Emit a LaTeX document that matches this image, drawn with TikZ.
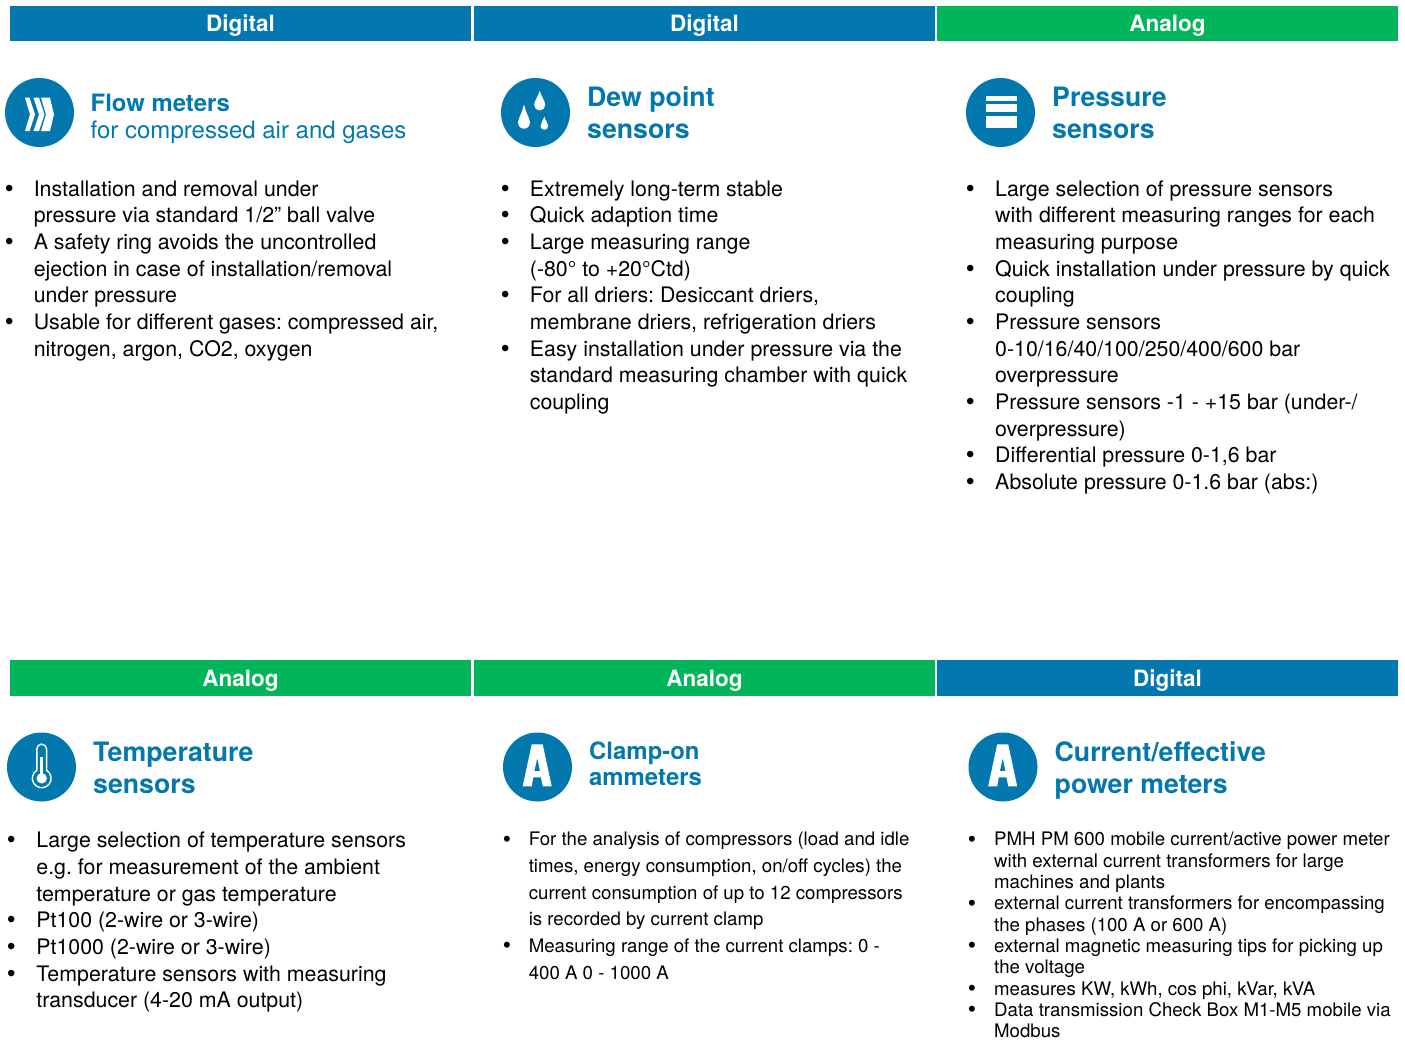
\documentclass[tikz,border=0pt]{standalone}
\usepackage{fontspec}
\setmainfont{TeX Gyre Heros}
\newfontfamily\bulfont{Liberation Sans}
\frenchspacing
\definecolor{bluec}{HTML}{0378AE}
\definecolor{greenc}{HTML}{00B55A}
\newcounter{ln}
\tikzset{
  bar/.style={minimum height=35.5pt,minimum width=461pt,inner sep=0pt,text=white,text height=18pt,text depth=2pt,font=\fontsize{22.5}{24}\selectfont\bfseries},
  digital/.style={bar,fill=bluec},
  analog/.style={bar,fill=greenc},
  disc/.style={circle,fill=bluec,minimum size=69pt,inner sep=0pt},
  line/.style={anchor=base west,inner sep=0pt,text=black},
  bodyA/.style={line,font=\fontsize{21.35}{24}\selectfont},
  bodyB/.style={line,font=\fontsize{18.65}{22}\selectfont},
  bulA/.style={line,font=\fontsize{24}{24}\selectfont\bulfont},
  bulB/.style={line,font=\fontsize{22}{24}\selectfont\bulfont},
  ttlbig/.style={line,text=bluec,font=\fontsize{26.7}{30}\selectfont\bfseries},
  ttlmid/.style={line,text=bluec,font=\fontsize{23.9}{30}\selectfont\bfseries},
  ttlreg/.style={line,text=bluec,font=\fontsize{24}{30}\selectfont},
}
\newcommand{\tl}[4]{\stepcounter{ln}\node[#1] (t\theln) at (#2,#3) {#4};}
\newcommand{\drop}[4]{\fill[white] (#1,#2) .. controls (#1+0.4*#4,#3-1.3*#4) and (#1+#4,#3-0.7*#4) .. (#1+#4,#3) arc[start angle=0,end angle=180,radius=#4] .. controls (#1-#4,#3-0.7*#4) and (#1-0.4*#4,#3-1.3*#4) .. (#1,#2) -- cycle;}
\begin{document}
\begin{tikzpicture}[x=1pt,y=-1pt]
\useasboundingbox (0,0) rectangle (1405,1039);
% header bars
\node[digital] (h1) at (240.5,23.7) {Digital};
\node[digital] (h2) at (704.5,23.7) {Digital};
\node[analog]  (h3) at (1167.5,23.7) {Analog};
\node[analog]  (h4) at (240.5,678) {Analog};
\node[analog]  (h5) at (704.5,678) {Analog};
\node[digital] (h6) at (1167.5,678) {Digital};
% discs
\node[disc] (d1) at (39.5,112.5) {};
\node[disc] (d2) at (535.5,112.5) {};
\node[disc] (d3) at (1000.5,112.5) {};
\node[disc] (d4) at (41.5,767) {};
\node[disc] (d5) at (537.5,767) {};
\node[disc] (d6) at (1003,767) {};
% chevrons
\fill[white] (25,97.7) -- (29.5,97.7) -- (35,114.5) -- (29.5,131) -- (25,131) -- (30,114.5) -- cycle;
\fill[white] (33.5,97.7) -- (39,97.7) -- (44.5,114.5) -- (39,131) -- (33.5,131) -- (39,114.5) -- cycle;
\fill[white] (41,97.7) -- (50,97.7) -- (54,114.5) -- (50,131) -- (41,131) -- (46,114.5) -- cycle;
% drops
\drop{524}{104.3}{122.7}{6}
\drop{539.7}{90.7}{105}{5.5}
\drop{544.3}{116.7}{126}{3.8}
% pressure
\fill[white] (985.7,96) rectangle (1017,101.3);
\fill[white] (985.7,103.7) rectangle (1017,112.3);
\fill[white] (985.7,116.3) rectangle (1017,128.3);
% thermometer
\draw[white,line width=1.4pt,line join=round] (46.6,770.3) -- (46.6,749) arc[start angle=0,end angle=-180,radius=4.9] -- (36.8,770.3) arc[start angle=238.6,end angle=-58.6,radius=9.4] -- cycle;
\fill[white] (41.7,778.3) circle[radius=5.2];
\fill[white] (40,756.7) rectangle (43.4,776);
% letter A
\foreach \cx/\cy in {537.5/767,1003/767}{
\fill[white,even odd rule,shift={(\cx,\cy)}]
 (-5.8,-22.7) -- (5.2,-22.7) -- (14.2,19.3) -- (5.2,19.3) -- (3.5,10.3) -- (-4.2,10.3) -- (-5.8,19.3) -- (-14.8,19.3) -- cycle
 (-0.2,-9) -- (2.5,4.2) -- (-3.2,4.2) -- cycle;
}
% titles
\tl{ttlmid}{90.5}{111}{Flow meters}
\tl{ttlreg}{90.5}{138}{for compressed air and gases}
\tl{ttlbig}{587}{106}{Dew point}
\tl{ttlbig}{587}{138}{sensors}
\tl{ttlbig}{1052}{106}{Pressure}
\tl{ttlbig}{1052}{138}{sensors}
\tl{ttlbig}{93}{761}{Temperature}
\tl{ttlbig}{93}{793}{sensors}
\tl{ttlmid}{589}{759.5}{Clamp-on}
\tl{ttlmid}{589}{785.5}{ammeters}
\tl{ttlbig}{1054.5}{761}{Current/effective}
\tl{ttlbig}{1054.5}{793}{power meters}
% column 1 row 1
\tl{bulA}{5}{196}{•}
\tl{bodyA}{33.6}{196}{Installation and removal under}
\tl{bodyA}{33.6}{222}{pressure via standard 1/2” ball valve}
\tl{bulA}{5}{249}{•}
\tl{bodyA}{33.6}{249}{A safety ring avoids the uncontrolled}
\tl{bodyA}{33.6}{276}{ejection in case of installation/removal}
\tl{bodyA}{33.6}{302}{under pressure}
\tl{bulA}{5}{329}{•}
\tl{bodyA}{33.6}{329}{Usable for different gases: compressed air,}
\tl{bodyA}{33.6}{356}{nitrogen, argon, CO2, oxygen}
% column 2 row 1
\tl{bulA}{501}{196}{•}
\tl{bodyA}{529.7}{196}{Extremely long-term stable}
\tl{bulA}{501}{222}{•}
\tl{bodyA}{529.7}{222}{Quick adaption time}
\tl{bulA}{501}{249}{•}
\tl{bodyA}{529.7}{249}{Large measuring range}
\tl{bodyA}{529.7}{276}{(-80° to +20°Ctd)}
\tl{bulA}{501}{302}{•}
\tl{bodyA}{529.7}{302}{For all driers: Desiccant driers,}
\tl{bodyA}{529.7}{329}{membrane driers, refrigeration driers}
\tl{bulA}{501}{356}{•}
\tl{bodyA}{529.7}{356}{Easy installation under pressure via the}
\tl{bodyA}{529.7}{382}{standard measuring chamber with quick}
\tl{bodyA}{529.7}{409}{coupling}
% column 3 row 1
\tl{bulA}{966}{196}{•}
\tl{bodyA}{995}{196}{Large selection of pressure sensors}
\tl{bodyA}{995}{222}{with different measuring ranges for each}
\tl{bodyA}{995}{249}{measuring purpose}
\tl{bulA}{966}{276}{•}
\tl{bodyA}{995}{276}{Quick installation under pressure by quick}
\tl{bodyA}{995}{302}{coupling}
\tl{bulA}{966}{329}{•}
\tl{bodyA}{995}{329}{Pressure sensors}
\tl{bodyA}{995}{356}{0-10/16/40/100/250/400/600 bar}
\tl{bodyA}{995}{382}{overpressure}
\tl{bulA}{966}{409}{•}
\tl{bodyA}{995}{409}{Pressure sensors -1 - +15 bar (under-/}
\tl{bodyA}{995}{436}{overpressure)}
\tl{bulA}{966}{462}{•}
\tl{bodyA}{995}{462}{Differential pressure 0-1,6 bar}
\tl{bulA}{966}{489}{•}
\tl{bodyA}{995}{489}{Absolute pressure 0-1.6 bar (abs:)}
% column 1 row 2
\tl{bulA}{7}{847}{•}
\tl{bodyA}{36.2}{847}{Large selection of temperature sensors}
\tl{bodyA}{36.2}{874}{e.g. for measurement of the ambient}
\tl{bodyA}{36.2}{901}{temperature or gas temperature}
\tl{bulA}{7}{927}{•}
\tl{bodyA}{36.2}{927}{Pt100 (2-wire or 3-wire)}
\tl{bulA}{7}{954}{•}
\tl{bodyA}{36.2}{954}{Pt1000 (2-wire or 3-wire)}
\tl{bulA}{7}{981}{•}
\tl{bodyA}{36.2}{981}{Temperature sensors with measuring}
\tl{bodyA}{36.2}{1007}{transducer (4-20 mA output)}
% column 2 row 2
\tl{bulB}{503}{846}{•}
\tl{bodyB}{528.6}{845.5}{For the analysis of compressors (load and idle}
\tl{bodyB}{528.6}{872.5}{times, energy consumption, on/off cycles) the}
\tl{bodyB}{528.6}{899}{current consumption of up to 12 compressors}
\tl{bodyB}{528.6}{925.5}{is recorded by current clamp}
\tl{bulB}{503}{952.5}{•}
\tl{bodyB}{528.6}{952}{Measuring range of the current clamps: 0 -}
\tl{bodyB}{528.6}{979}{400 A 0 - 1000 A}
% column 3 row 2
\tl{bulB}{968}{846}{•}
\tl{bodyB}{994}{845.5}{PMH PM 600 mobile current/active power meter}
\tl{bodyB}{994}{867}{with external current transformers for large}
\tl{bodyB}{994}{888.5}{machines and plants}
\tl{bulB}{968}{910}{•}
\tl{bodyB}{994}{909.5}{external current transformers for encompassing}
\tl{bodyB}{994}{931}{the phases (100 A or 600 A)}
\tl{bulB}{968}{952.5}{•}
\tl{bodyB}{994}{952}{external magnetic measuring tips for picking up}
\tl{bodyB}{994}{973.5}{the voltage}
\tl{bulB}{968}{995.5}{•}
\tl{bodyB}{994}{995}{measures KW, kWh, cos phi, kVar, kVA}
\tl{bulB}{968}{1016.5}{•}
\tl{bodyB}{994}{1016}{Data transmission Check Box M1-M5 mobile via}
\tl{bodyB}{994}{1037}{Modbus}
\end{tikzpicture}
\end{document}
